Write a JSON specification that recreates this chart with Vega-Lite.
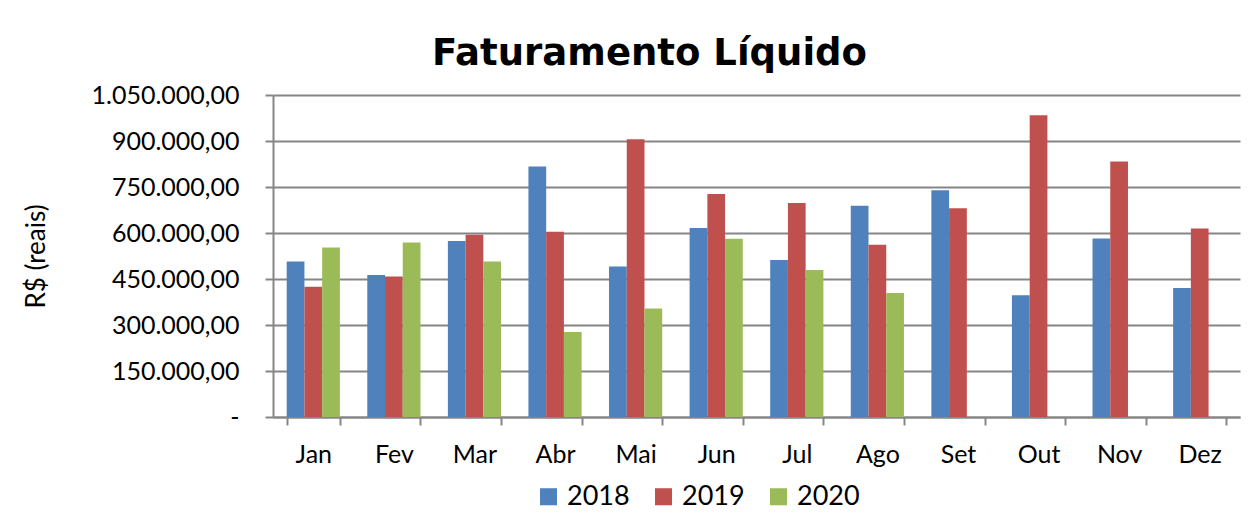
{
  "$schema": "https://vega.github.io/schema/vega-lite/v6.json",
  "width": 967,
  "height": 322,
  "autosize": {"type": "none"},
  "padding": {"left": 273, "top": 95, "right": 16, "bottom": 103},
  "background": "white",
  "title": {
    "text": "Faturamento Líquido",
    "font": "DejaVu Sans",
    "fontSize": 37,
    "fontWeight": "bold",
    "color": "#000000",
    "anchor": "middle",
    "dx": -107,
    "offset": 10
  },
  "data": {
    "values": [
      {"mes": "Jan", "ano": "2018", "valor": 507000},
      {"mes": "Jan", "ano": "2019", "valor": 425000},
      {"mes": "Jan", "ano": "2020", "valor": 553000},
      {"mes": "Fev", "ano": "2018", "valor": 463000},
      {"mes": "Fev", "ano": "2019", "valor": 458000},
      {"mes": "Fev", "ano": "2020", "valor": 569000},
      {"mes": "Mar", "ano": "2018", "valor": 574000},
      {"mes": "Mar", "ano": "2019", "valor": 594000},
      {"mes": "Mar", "ano": "2020", "valor": 507000},
      {"mes": "Abr", "ano": "2018", "valor": 817000},
      {"mes": "Abr", "ano": "2019", "valor": 604000},
      {"mes": "Abr", "ano": "2020", "valor": 277000},
      {"mes": "Mai", "ano": "2018", "valor": 491000},
      {"mes": "Mai", "ano": "2019", "valor": 906000},
      {"mes": "Mai", "ano": "2020", "valor": 354000},
      {"mes": "Jun", "ano": "2018", "valor": 616000},
      {"mes": "Jun", "ano": "2019", "valor": 727000},
      {"mes": "Jun", "ano": "2020", "valor": 581000},
      {"mes": "Jul", "ano": "2018", "valor": 512000},
      {"mes": "Jul", "ano": "2019", "valor": 698000},
      {"mes": "Jul", "ano": "2020", "valor": 479000},
      {"mes": "Ago", "ano": "2018", "valor": 689000},
      {"mes": "Ago", "ano": "2019", "valor": 562000},
      {"mes": "Ago", "ano": "2020", "valor": 404000},
      {"mes": "Set", "ano": "2018", "valor": 739000},
      {"mes": "Set", "ano": "2019", "valor": 681000},
      {"mes": "Out", "ano": "2018", "valor": 397000},
      {"mes": "Out", "ano": "2019", "valor": 984000},
      {"mes": "Nov", "ano": "2018", "valor": 582000},
      {"mes": "Nov", "ano": "2019", "valor": 833000},
      {"mes": "Dez", "ano": "2018", "valor": 421000},
      {"mes": "Dez", "ano": "2019", "valor": 615000}
    ]
  },
  "mark": {"type": "bar"},
  "encoding": {
    "x": {
      "field": "mes",
      "type": "nominal",
      "sort": ["Jan", "Fev", "Mar", "Abr", "Mai", "Jun", "Jul", "Ago", "Set", "Out", "Nov", "Dez"],
      "scale": {"paddingInner": 0.34, "paddingOuter": 0.17},
      "axis": {
        "title": null,
        "labelAngle": 0,
        "labelFont": "Lato",
        "labelFontSize": 25,
        "labelColor": "#000000",
        "labelPadding": 17,
        "tickBand": "extent",
        "tickSize": 8,
        "tickColor": "#868686",
        "tickWidth": 2,
        "domainColor": "#868686",
        "domainWidth": 2,
        "grid": false
      }
    },
    "xOffset": {
      "field": "ano",
      "type": "nominal",
      "scale": {"paddingInner": 0, "paddingOuter": 0}
    },
    "y": {
      "field": "valor",
      "type": "quantitative",
      "scale": {"domain": [0, 1050000], "nice": false},
      "axis": {
        "title": "R$ (reais)",
        "titleFont": "Lato",
        "titleFontSize": 26,
        "titleFontWeight": "normal",
        "titleColor": "#000000",
        "titlePadding": 42,
        "values": [0, 150000, 300000, 450000, 600000, 750000, 900000, 1050000],
        "labelExpr": "datum.value == 0 ? '-' : format(datum.value, ',.2f')",
        "labelFont": "Lato",
        "labelFontSize": 25,
        "labelColor": "#000000",
        "labelPadding": 26,
        "tickSize": 8,
        "tickColor": "#868686",
        "tickWidth": 2,
        "domainColor": "#868686",
        "domainWidth": 2,
        "grid": true,
        "gridColor": "#868686",
        "gridWidth": 2
      }
    },
    "color": {
      "field": "ano",
      "type": "nominal",
      "scale": {"domain": ["2018", "2019", "2020"], "range": ["#4F81BD", "#C0504D", "#9BBB59"]},
      "legend": {
        "title": null,
        "orient": "none",
        "direction": "horizontal",
        "legendX": 262,
        "legendY": 388,
        "symbolType": "square",
        "symbolSize": 290,
        "symbolStrokeWidth": 0,
        "labelFont": "Lato",
        "labelFontSize": 27,
        "labelColor": "#000000",
        "columnPadding": 20,
        "labelOffset": 5
      }
    }
  },
  "config": {
    "locale": {
      "number": {"decimal": ",", "thousands": ".", "grouping": [3], "currency": ["R$ ", ""]}
    },
    "view": {"stroke": null}
  }
}
